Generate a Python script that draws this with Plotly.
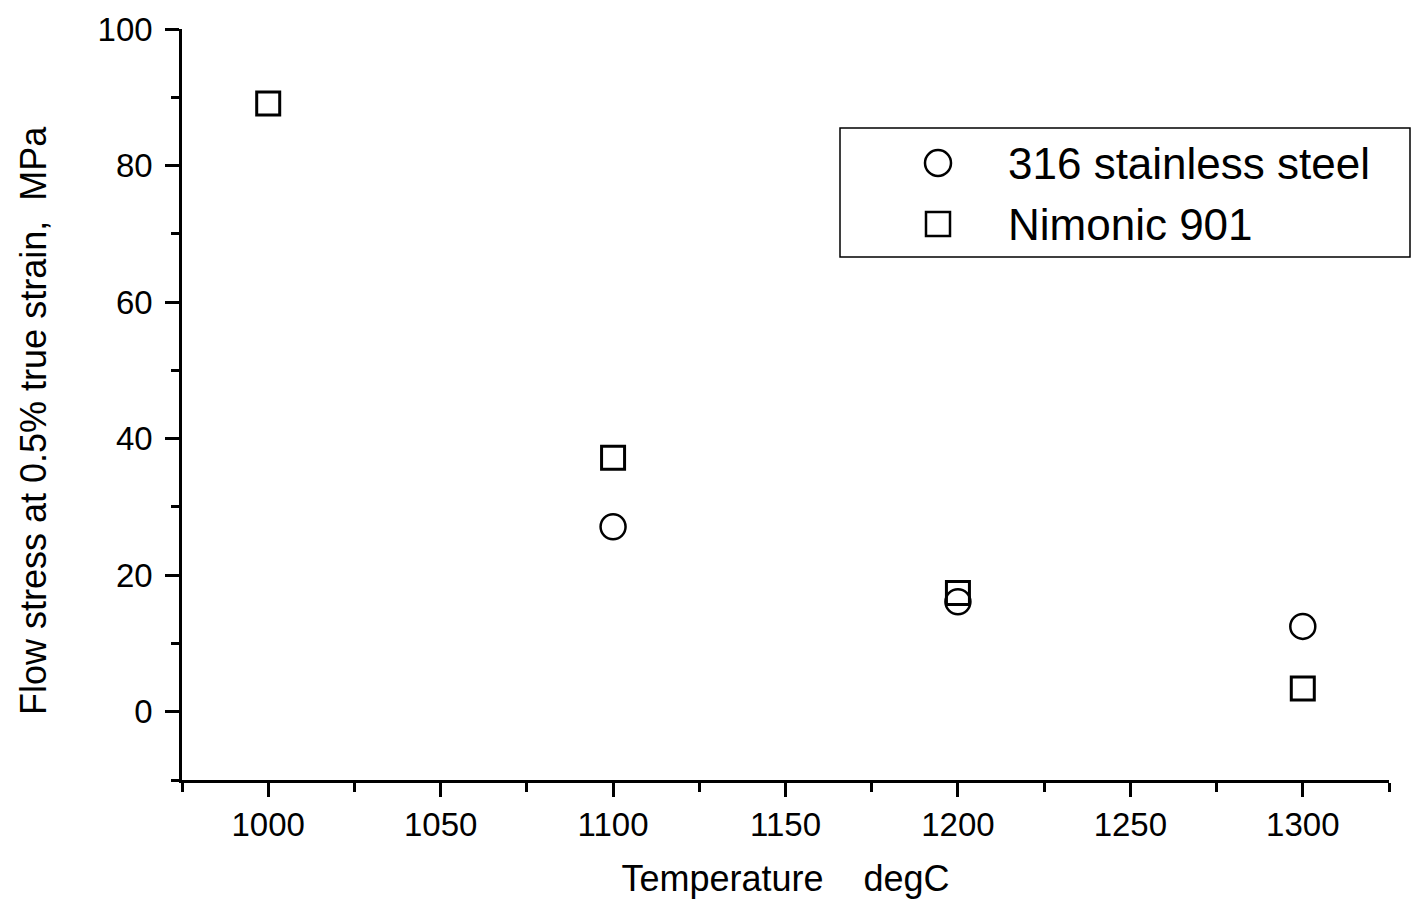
import plotly.graph_objects as go

temps_316 = [1100, 1200, 1300]
stress_316 = [27.1, 16.1, 12.5]
temps_nim = [1000, 1100, 1200, 1300]
stress_nim = [89.1, 37.2, 17.4, 3.4]
legend_names = ["316 stainless steel", "Nimonic 901"]
x_title = "Temperature \u00a0\u00a0\u00a0degC"
y_title = "Flow stress at 0.5% true strain,\u00a0\u00a0MPa"

FONT = "Liberation Sans, Arial, sans-serif"

L, R, T, B = 182, 1389, 29, 780
PW, PH = R - L, B - T


def px(x):
    return (x - L) / PW


def py(y):
    return (B - y) / PH


fig = go.Figure()
fig.add_trace(go.Scatter(
    x=temps_316, y=stress_316, mode="markers", name=legend_names[0],
    marker=dict(symbol="circle-open", size=25, color="black", line=dict(width=2.5, color="black")),
))
fig.add_trace(go.Scatter(
    x=temps_nim, y=stress_nim, mode="markers", name=legend_names[1],
    marker=dict(symbol="square-open", size=23, color="black", line=dict(width=3, color="black")),
))

shapes = [
    dict(type="rect", xref="paper", yref="paper",
         x0=px(840), x1=px(1410), y0=py(257), y1=py(128),
         line=dict(color="black", width=1.5), fillcolor="rgba(0,0,0,0)"),
    dict(type="circle", xref="paper", yref="paper", xsizemode="pixel", ysizemode="pixel",
         xanchor=px(938), yanchor=py(163), x0=-13, x1=13, y0=-13, y1=13,
         line=dict(color="black", width=2.5), fillcolor="rgba(0,0,0,0)"),
    dict(type="rect", xref="paper", yref="paper", xsizemode="pixel", ysizemode="pixel",
         xanchor=px(938), yanchor=py(224), x0=-12, x1=12, y0=-12, y1=12,
         line=dict(color="black", width=2.5), fillcolor="rgba(0,0,0,0)"),
]
annotations = [
    dict(xref="paper", yref="paper", x=px(1006), y=py(163), xanchor="left", yanchor="middle",
         text=legend_names[0], showarrow=False, font=dict(size=44, family=FONT, color="black")),
    dict(xref="paper", yref="paper", x=px(1006), y=py(224), xanchor="left", yanchor="middle",
         text=legend_names[1], showarrow=False, font=dict(size=44, family=FONT, color="black")),
    dict(xref="paper", yref="paper", x=px(33), y=py(421), xanchor="center", yanchor="middle",
         text=y_title, textangle=-90, showarrow=False, font=dict(size=36, family=FONT, color="black")),
]

fig.update_layout(
    width=1419, height=902,
    margin=dict(l=L, r=1419 - R, t=T, b=902 - B),
    paper_bgcolor="white", plot_bgcolor="white",
    font=dict(family=FONT, color="black", size=33),
    showlegend=False,
    shapes=shapes,
    annotations=annotations,
)

fig.update_xaxes(
    range=[975, 1325], showgrid=False, zeroline=False, automargin=False,
    showline=True, linecolor="black", linewidth=2.5,
    ticks="outside", ticklen=14, tickwidth=2.5, tickcolor="black",
    tick0=1000, dtick=50, tickfont=dict(size=33),
    minor=dict(ticks="outside", dtick=25, tick0=975, ticklen=9, tickwidth=2.5, tickcolor="black"),
    title=dict(text=x_title, font=dict(size=36), standoff=24),
)
fig.update_yaxes(
    range=[-10, 100], showgrid=False, zeroline=False, automargin=False,
    showline=True, linecolor="black", linewidth=2.5,
    ticks="outside", ticklen=14, tickwidth=2.5, tickcolor="black",
    tick0=0, dtick=20, tickfont=dict(size=33), ticklabelstandoff=6,
    minor=dict(ticks="outside", dtick=10, tick0=0, ticklen=8, tickwidth=2.5, tickcolor="black"),
)

fig.write_html("out.html")
